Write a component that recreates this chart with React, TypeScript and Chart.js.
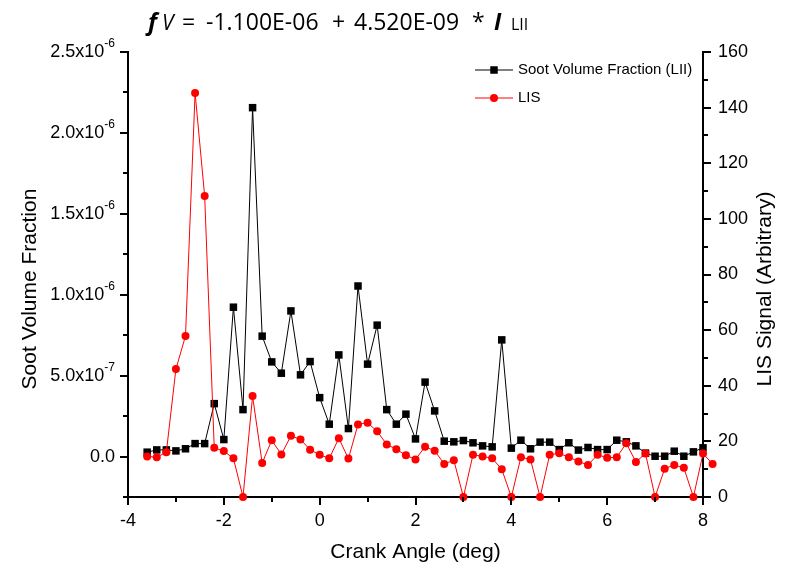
import React, { useEffect, useRef } from 'react';
import { Chart, registerables } from 'chart.js';

Chart.register(...registerables);

// ---------- data ----------
const crankAngles = [
  -3.6, -3.4, -3.2, -3.0, -2.8, -2.6, -2.4, -2.2, -2.0, -1.8,
  -1.6, -1.4, -1.2, -1.0, -0.8, -0.6, -0.4, -0.2, 0.0, 0.2,
  0.4, 0.6, 0.8, 1.0, 1.2, 1.4, 1.6, 1.8, 2.0, 2.2,
  2.4, 2.6, 2.8, 3.0, 3.2, 3.4, 3.6, 3.8, 4.0, 4.2,
  4.4, 4.6, 4.8, 5.0, 5.2, 5.4, 5.6, 5.8, 6.0, 6.2,
  6.4, 6.6, 6.8, 7.0, 7.2, 7.4, 7.6, 7.8, 8.0, 8.2,
];

const sootVolumeFraction = [
  2.7e-8, 4.1e-8, 4.1e-8, 3.5e-8, 4.8e-8, 8.0e-8, 8.0e-8, 3.27e-7, 1.05e-7, 9.23e-7,
  2.9e-7, 2.156e-6, 7.44e-7, 5.85e-7, 5.15e-7, 9.0e-7, 5.05e-7, 5.87e-7, 3.64e-7, 2.0e-7,
  6.28e-7, 1.73e-7, 1.054e-6, 5.71e-7, 8.12e-7, 2.9e-7, 2.0e-7, 2.62e-7, 1.09e-7, 4.6e-7,
  2.82e-7, 9.5e-8, 9.1e-8, 9.9e-8, 8.5e-8, 6.6e-8, 6.0e-8, 7.21e-7, 5.2e-8, 1.01e-7,
  4.8e-8, 8.9e-8, 8.9e-8, 4.3e-8, 8.5e-8, 4.0e-8, 5.6e-8, 4.3e-8, 4.3e-8, 1.01e-7,
  9.1e-8, 6.6e-8, 2.1e-8, 2e-9, 2e-9, 3.3e-8, 2e-9, 2.9e-8, 5.4e-8,
];

const lisSignal = [
  14.6, 14.3, 16.1, 46.0, 57.9, 145.3, 108.2, 17.7, 16.5, 13.9,
  0, 36.3, 12.2, 20.4, 15.3, 22.0, 20.7, 17.0, 15.2, 13.9,
  21.1, 13.8, 26.1, 26.7, 23.6, 18.9, 17.2, 15.0, 13.5, 18.1,
  16.6, 11.9, 13.2, 0, 15.2, 14.6, 13.9, 10.0, 0, 14.3,
  13.5, 0, 15.2, 15.7, 14.3, 12.8, 11.5, 15.2, 14.1, 14.3,
  19.3, 12.6, 15.6, 0, 10.2, 11.5, 10.5, 0, 15.6, 11.9,
];

const seriesNames = ['Soot Volume Fraction (LII)', 'LIS'];

const xMajorTicks = [-4, -2, 0, 2, 4, 6, 8];
const xMinorTicks = [-3, -1, 1, 3, 5, 7];
const xTickLabels = ['-4', '-2', '0', '2', '4', '6', '8'];

const leftMajorTicks = [0, 5e-7, 1e-6, 1.5e-6, 2e-6, 2.5e-6];
const leftTickMantissas = ['0.0', '5.0x10', '1.0x10', '1.5x10', '2.0x10', '2.5x10'];
const leftTickExponents = ['', '-7', '-6', '-6', '-6', '-6'];
const leftMinorTicks = [-2.5e-7, 2.5e-7, 7.5e-7, 1.25e-6, 1.75e-6, 2.25e-6];

const rightMajorTicks = [0, 20, 40, 60, 80, 100, 120, 140, 160];
const rightMinorTicks = [10, 30, 50, 70, 90, 110, 130, 150];

const xTitle = 'Crank Angle (deg)';
const leftTitle = 'Soot Volume Fraction';
const rightTitle = 'LIS Signal (Arbitrary)';

const FONT = '"Liberation Sans", Arial, sans-serif';
const TFONT = '"Open Sans", "Noto Sans", sans-serif';

const drawPlugin = {
  id: 'customDecor',
  afterDatasetsDraw(chart: any) {
    // LIS points that lie beyond the x-axis maximum (drawn unclipped as in the original)
    const ctx: CanvasRenderingContext2D = chart.ctx;
    const xs = chart.scales.x;
    const y1s = chart.scales.y1;
    ctx.save();
    ctx.strokeStyle = '#ff0000';
    ctx.fillStyle = '#ff0000';
    ctx.lineWidth = 1;
    lisSignal.forEach((v, i) => {
      if (crankAngles[i] <= xs.max || i === 0) return;
      const px0 = xs.getPixelForValue(crankAngles[i - 1]);
      const py0 = y1s.getPixelForValue(lisSignal[i - 1]);
      const px = xs.getPixelForValue(crankAngles[i]);
      const py = y1s.getPixelForValue(v);
      ctx.beginPath();
      ctx.moveTo(px0, py0);
      ctx.lineTo(px, py);
      ctx.stroke();
      ctx.beginPath();
      ctx.arc(px, py, 4, 0, Math.PI * 2);
      ctx.fill();
    });
    ctx.restore();
  },
  afterDraw(chart: any) {
    const ctx: CanvasRenderingContext2D = chart.ctx;
    const { left, right, top, bottom } = chart.chartArea;
    const xs = chart.scales.x;
    const ys = chart.scales.y;
    const y1s = chart.scales.y1;
    ctx.save();
    ctx.strokeStyle = '#000';
    ctx.fillStyle = '#000';
    ctx.lineWidth = 2;
    const seg = (x1: number, y1: number, x2: number, y2: number) => {
      ctx.beginPath();
      ctx.moveTo(x1, y1);
      ctx.lineTo(x2, y2);
      ctx.stroke();
    };
    const MAJ = 8;
    const MIN = 5;
    // x ticks
    xMajorTicks.forEach((v) => {
      const px = Math.round(xs.getPixelForValue(v));
      seg(px, bottom, px, bottom + MAJ);
    });
    xMinorTicks.forEach((v) => {
      const px = Math.round(xs.getPixelForValue(v));
      seg(px, bottom, px, bottom + MIN);
    });
    // left ticks
    leftMajorTicks.forEach((v) => {
      const py = Math.round(ys.getPixelForValue(v));
      seg(left - MAJ, py, left, py);
    });
    leftMinorTicks.forEach((v) => {
      const py = Math.round(ys.getPixelForValue(v));
      seg(left - MIN, py, left, py);
    });
    // right ticks
    rightMajorTicks.forEach((v) => {
      const py = Math.round(y1s.getPixelForValue(v));
      seg(right, py, right + MAJ, py);
    });
    rightMinorTicks.forEach((v) => {
      const py = Math.round(y1s.getPixelForValue(v));
      seg(right, py, right + MIN, py);
    });

    // tick labels
    ctx.font = `18px ${FONT}`;
    ctx.textBaseline = 'middle';
    ctx.textAlign = 'center';
    xMajorTicks.forEach((v, i) => {
      ctx.fillText(xTickLabels[i], xs.getPixelForValue(v), bottom + 24);
    });
    ctx.textAlign = 'left';
    rightMajorTicks.forEach((v) => {
      ctx.fillText(String(v), right + 15, y1s.getPixelForValue(v));
    });
    leftMajorTicks.forEach((v, i) => {
      const py = ys.getPixelForValue(v);
      const exp = leftTickExponents[i];
      const rightEdge = left - 13;
      if (!exp) {
        ctx.font = `18px ${FONT}`;
        ctx.textAlign = 'right';
        ctx.fillText(leftTickMantissas[i], rightEdge, py);
      } else {
        ctx.font = `12px ${FONT}`;
        ctx.textAlign = 'right';
        ctx.fillText(exp, rightEdge, py - 8);
        const ew = ctx.measureText(exp).width;
        ctx.font = `18px ${FONT}`;
        ctx.fillText(leftTickMantissas[i], rightEdge - ew, py);
      }
    });

    // axis titles
    ctx.font = `21px ${FONT}`;
    ctx.textAlign = 'center';
    ctx.textBaseline = 'middle';
    ctx.fillText(xTitle, (left + right) / 2, 552);
    ctx.save();
    ctx.translate(30, 289);
    ctx.rotate(-Math.PI / 2);
    ctx.fillText(leftTitle, 0, 0);
    ctx.restore();
    ctx.save();
    ctx.translate(765, 289);
    ctx.rotate(-Math.PI / 2);
    ctx.fillText(rightTitle, 0, 0);
    ctx.restore();

    // legend
    const lx = right - 228;
    const ly1 = top + 18;
    const ly2 = top + 46;
    ctx.lineWidth = 1;
    ctx.strokeStyle = '#000';
    seg(lx, ly1, lx + 38, ly1);
    ctx.fillStyle = '#000';
    ctx.fillRect(lx + 19 - 3.75, ly1 - 3.75, 7.5, 7.5);
    ctx.strokeStyle = '#ff0000';
    seg(lx, ly2, lx + 38, ly2);
    ctx.fillStyle = '#ff0000';
    ctx.beginPath();
    ctx.arc(lx + 19, ly2, 4, 0, Math.PI * 2);
    ctx.fill();
    ctx.fillStyle = '#000';
    ctx.font = `15px ${FONT}`;
    ctx.textAlign = 'left';
    ctx.textBaseline = 'middle';
    ctx.fillText(seriesNames[0], lx + 43, ly1);
    ctx.fillText(seriesNames[1], lx + 43, ly2);

    // equation title
    ctx.textBaseline = 'alphabetic';
    ctx.textAlign = 'left';
    const base = 30;
    ctx.font = `italic bold 24px ${TFONT}`;
    ctx.fillText('f', 148, base);
    ctx.font = `italic 21px ${TFONT}`;
    ctx.fillText('V', 162, base);
    ctx.font = `23px ${TFONT}`;
    ctx.fillText('=', 182, base);
    ctx.fillText('-1.100E-06', 206, base);
    ctx.fillText('+', 332, base);
    ctx.fillText('4.520E-09', 354, base);
    ctx.fillText('*', 472, base);
    ctx.font = `italic bold 23px ${TFONT}`;
    ctx.fillText('I', 494, base);
    ctx.font = `16px ${TFONT}`;
    ctx.fillText('LII', 511, base);

    ctx.restore();
  },
};

export default function App() {
  const canvasRef = useRef<HTMLCanvasElement | null>(null);

  useEffect(() => {
    if (!canvasRef.current) return;
    const sootData = sootVolumeFraction.map((v, i) => ({ x: crankAngles[i], y: v }));
    const lisData = lisSignal.map((v, i) => ({ x: crankAngles[i], y: v }));
    const chart = new Chart(canvasRef.current, {
      type: 'line',
      data: {
        datasets: [
          {
            label: seriesNames[1],
            data: lisData,
            yAxisID: 'y1',
            borderColor: '#ff0000',
            backgroundColor: '#ff0000',
            borderWidth: 1,
            pointStyle: 'circle',
            pointRadius: 4,
            pointBorderWidth: 0,
            pointBackgroundColor: '#ff0000',
            tension: 0,
            clip: false as any,
          },
          {
            label: seriesNames[0],
            data: sootData,
            yAxisID: 'y',
            borderColor: '#000000',
            backgroundColor: '#000000',
            borderWidth: 1,
            pointStyle: 'rect',
            pointRadius: 5.3,
            pointBorderWidth: 0,
            pointBackgroundColor: '#000000',
            tension: 0,
            clip: false as any,
          },
        ],
      },
      options: {
        animation: false,
        responsive: false,
        maintainAspectRatio: false,
        layout: { padding: { top: 52, left: 0, right: 0, bottom: 0 } },
        plugins: {
          legend: { display: false },
          title: { display: false },
          tooltip: { enabled: false },
        },
        scales: {
          x: {
            type: 'linear',
            position: 'bottom',
            min: -4,
            max: 8,
            grid: { display: false },
            ticks: { display: false },
            border: { display: true, color: '#000', width: 2 },
            afterFit: (s: any) => { s.height = 71; },
          },
          y: {
            type: 'linear',
            position: 'left',
            min: -2.5e-7,
            max: 2.5e-6,
            grid: { display: false },
            ticks: { display: false },
            border: { display: true, color: '#000', width: 2 },
            afterFit: (s: any) => { s.width = 128; },
          },
          y1: {
            type: 'linear',
            position: 'right',
            min: 0,
            max: 160,
            grid: { display: false },
            ticks: { display: false },
            border: { display: true, color: '#000', width: 2 },
            afterFit: (s: any) => { s.width = 82; },
          },
        },
      },
      plugins: [drawPlugin],
    });
    return () => chart.destroy();
  }, []);

  return (
    <div style={{ position: 'absolute', left: 0, top: 0, width: 785, height: 568, background: '#fff' }}>
      <canvas ref={canvasRef} width={785} height={568} />
    </div>
  );
}
